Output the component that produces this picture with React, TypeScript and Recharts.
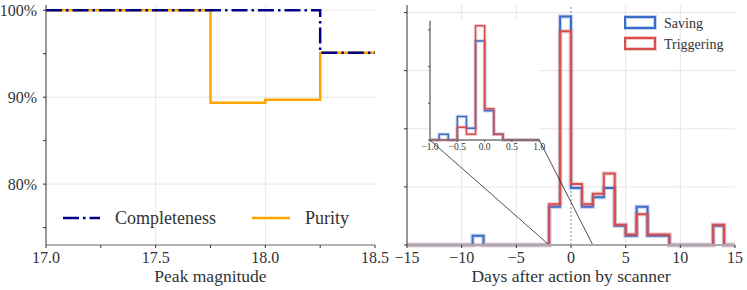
import React from "react";
import {
  LineChart,
  Line,
  XAxis,
  YAxis,
  CartesianGrid,
  ReferenceLine,
} from "recharts";

const FONT = '"Liberation Serif", "DejaVu Serif", serif';
const TEXT = "#333";

// left panel: completeness / purity vs peak magnitude (bin edges, last value repeated for the step)
const magEdges = [17.0, 17.25, 17.5, 17.75, 18.0, 18.25, 18.5];
const completeness = [100, 100, 100, 100, 100, 95.1, 95.1];
const purity = [100, 100, 100, 89.35, 89.7, 95.1, 95.1];
const magTicks = [17.0, 17.25, 17.5, 17.75, 18.0, 18.25, 18.5];
const magLabelled = [17.0, 17.5, 18.0, 18.5];
const pctTicks = [75, 80, 85, 90, 95, 100];
const pctLabelled = [80, 90, 100];

// right panel: histogram, 1-day bins from -15 to 15
const dayEdges = [
  -15, -14, -13, -12, -11, -10, -9, -8, -7, -6, -5, -4, -3, -2, -1, 0, 1, 2, 3,
  4, 5, 6, 7, 8, 9, 10, 11, 12, 13, 14, 15,
];
const saving = [
  0, 0, 0, 0, 0, 0, 0.016, 0, 0, 0, 0, 0, 0, 0.066, 0.393, 0.098, 0.066, 0.082,
  0.098, 0.033, 0.016, 0.066, 0.016, 0.016, 0, 0, 0, 0, 0.033, 0,
];
const triggering = [
  0, 0, 0, 0, 0, 0, 0, 0, 0, 0, 0, 0, 0, 0.07, 0.368, 0.105, 0.07, 0.088, 0.123,
  0.035, 0.018, 0.053, 0.018, 0.018, 0, 0, 0, 0, 0.035, 0,
];
const dayTicks = [-15, -10, -5, 0, 5, 10, 15];
const densTicks = [0, 0.1, 0.2, 0.3, 0.4];

// inset: zoom on [-1, 1], bins of 1/6 day
const insetEdges = [
  -1, -0.8333, -0.6667, -0.5, -0.3333, -0.1667, 0, 0.1667, 0.3333, 0.5, 0.6667,
  0.8333, 1,
];
const insetSaving = [0, 0.155, 0, 0.64, 0.32, 2.7, 0.8, 0.155, 0, 0, 0, 0];
const insetTriggering = [0, 0, 0, 0.35, 0.155, 3.11, 0.85, 0.155, 0, 0, 0, 0];
const insetTicks = [-1, -0.5, 0, 0.5, 1];

const BLUE = "#3a6cc8";
const RED = "#d64f4f";

const stepTable = (edges: number[], a: number[], b: number[]) =>
  edges.map((x, i) => ({
    x,
    a: a[Math.min(i, a.length - 1)],
    b: b[Math.min(i, b.length - 1)],
  }));

const leftData = magEdges.map((x, i) => ({
  x,
  completeness: completeness[i],
  purity: purity[i],
}));
const rightData = stepTable(dayEdges, saving, triggering);
const insetData = stepTable(insetEdges, insetSaving, insetTriggering);

const minus = (v: number) => (v < 0 ? `\u2212${Math.abs(v)}` : `${v}`);
const tickStyle = { fontFamily: FONT, fontSize: 16, fill: TEXT };

// axis title drawn by hand so the serif font sticks
const axisLabel = (value: string) => ({
  value,
  content: (props: any) => {
    const vb = props.viewBox || {};
    return (
      <text x={vb.x + vb.width / 2} y={vb.y + 37} textAnchor="middle" fontFamily={FONT} fontSize={17.5} fill={TEXT}>
        {value}
      </text>
    );
  },
});

const LeftLegend = () => (
  <svg width={310} height={26}>
    <line x1={8} x2={45} y1={13} y2={13} stroke="#00008b" strokeWidth={2.5} strokeDasharray="16 4 2.5 4" />
    <text x={60} y={13} dominantBaseline="central" fontFamily={FONT} fontSize={18} fill={TEXT}>
      Completeness
    </text>
    <line x1={197} x2={235} y1={13} y2={13} stroke="#ffa500" strokeWidth={2.5} />
    <text x={250} y={13} dominantBaseline="central" fontFamily={FONT} fontSize={18} fill={TEXT}>
      Purity
    </text>
  </svg>
);

const RightLegend = () => (
  <svg width={115} height={45}>
    {[
      { c: BLUE, y: 7, name: "Saving" },
      { c: RED, y: 28, name: "Triggering" },
    ].map((it) => (
      <g key={it.name}>
        <rect x={1} y={it.y} width={30} height={11} fill="none" stroke={it.c} strokeOpacity={0.3} strokeWidth={4} />
        <rect x={1} y={it.y} width={30} height={11} fill="none" stroke={it.c} strokeWidth={2} />
        <text x={40} y={it.y + 6} dominantBaseline="central" fontFamily={FONT} fontSize={14} fill={TEXT}>
          {it.name}
        </text>
      </g>
    ))}
  </svg>
);

const LeftPanel = () => (
  <LineChart width={395} height={290} data={leftData} margin={{ top: 5, right: 20, left: 6, bottom: 0 }}>
    <CartesianGrid stroke="#e6e6e6" verticalValues={[17.5, 18.0]} horizontalValues={[80, 90, 100]} />
    <XAxis
      dataKey="x"
      type="number"
      domain={[17.0, 18.5]}
      ticks={magTicks}
      height={45}
      tickSize={3}
      tickMargin={4}
      tick={tickStyle}
      tickFormatter={(v: number) => (magLabelled.includes(v) ? v.toFixed(1) : "")}
      axisLine={{ stroke: "#999", strokeWidth: 1.5 }}
      tickLine={{ stroke: "#333" }}
      label={axisLabel("Peak magnitude")}
    />
    <XAxis xAxisId="top" orientation="top" dataKey="x" type="number" domain={[17.0, 18.5]} height={0} tick={false} tickLine={false} axisLine={{ stroke: "#333" }} />
    <YAxis
      type="number"
      domain={[73.0, 100.6]}
      ticks={pctTicks}
      width={40}
      tickSize={3}
      tickMargin={6}
      tick={tickStyle}
      tickFormatter={(v: number) => (pctLabelled.includes(v) ? `${v}%` : "")}
      axisLine={{ stroke: "#333" }}
      tickLine={{ stroke: "#333" }}
    />
    <YAxis yAxisId="r" orientation="right" type="number" domain={[73.0, 100.6]} ticks={pctTicks} width={0} tickSize={3} tickFormatter={() => ""} axisLine={{ stroke: "#333" }} tickLine={{ stroke: "#333" }} />
    <Line type="stepAfter" dataKey="purity" stroke="#ffa500" strokeWidth={2.5} dot={false} isAnimationActive={false} />
    <Line type="stepAfter" dataKey="completeness" stroke="#00008b" strokeWidth={2.5} strokeDasharray="16 4 2.5 4" dot={false} isAnimationActive={false} />
  </LineChart>
);

const RightPanel = () => (
  <LineChart width={367} height={290} data={rightData} margin={{ top: 5, right: 12, left: 0, bottom: 0 }}>
    <CartesianGrid stroke="#e6e6e6" verticalValues={[-10, -5, 5, 10]} horizontalValues={[0.1, 0.2, 0.3, 0.4]} />
    <XAxis
      dataKey="x"
      type="number"
      domain={[-15, 15]}
      ticks={dayTicks}
      allowDataOverflow
      height={45}
      tickSize={3}
      tickMargin={4}
      tick={tickStyle}
      tickFormatter={minus}
      axisLine={{ stroke: "#aaa", strokeWidth: 2 }}
      tickLine={{ stroke: "#333" }}
      label={axisLabel("Days after action by scanner")}
    />
    <XAxis xAxisId="top" orientation="top" dataKey="x" type="number" domain={[-15, 15]} height={0} tick={false} tickLine={false} axisLine={{ stroke: "#333" }} />
    <YAxis type="number" domain={[0, 0.413]} ticks={densTicks} width={27} tickSize={3} tickFormatter={() => ""} axisLine={{ stroke: "#333" }} tickLine={{ stroke: "#333" }} />
    <YAxis yAxisId="r" orientation="right" type="number" domain={[0, 0.413]} width={0} tick={false} tickLine={false} axisLine={{ stroke: "#333" }} />
    <ReferenceLine x={0} stroke="#888" strokeDasharray="2 2" strokeWidth={1} />
    <Line type="stepAfter" dataKey="a" stroke={BLUE} strokeOpacity={0.25} strokeWidth={4.5} dot={false} isAnimationActive={false} />
    <Line type="stepAfter" dataKey="a" stroke={BLUE} strokeWidth={2} dot={false} isAnimationActive={false} />
    <Line type="stepAfter" dataKey="b" stroke={RED} strokeOpacity={0.25} strokeWidth={4.5} dot={false} isAnimationActive={false} />
    <Line type="stepAfter" dataKey="b" stroke={RED} strokeWidth={2} dot={false} isAnimationActive={false} />
    <ReferenceLine segment={[{ x: -12.9, y: 0.1805 }, { x: -2, y: 0 }]} stroke="#222" strokeWidth={0.8} />
    <ReferenceLine segment={[{ x: -2.9, y: 0.1805 }, { x: 2, y: 0 }]} stroke="#222" strokeWidth={0.8} />
  </LineChart>
);

const InsetPanel = () => (
  <LineChart width={130} height={145} data={insetData} margin={{ top: 5.7, right: 10.7, left: 0, bottom: 0 }}>
    <CartesianGrid horizontal={false} vertical={false} fill="#fff" />
    <XAxis
      dataKey="x"
      type="number"
      domain={[-1, 1]}
      ticks={insetTicks}
      height={20}
      tickSize={2}
      tickMargin={1}
      tick={{ fontFamily: FONT, fontSize: 9.5, fill: TEXT }}
      tickFormatter={(v: number) => (v < 0 ? `\u2212${Math.abs(v).toFixed(1)}` : v.toFixed(1))}
      axisLine={{ stroke: "#777", strokeWidth: 1.5 }}
      tickLine={{ stroke: "#555" }}
    />
    <XAxis xAxisId="top" orientation="top" dataKey="x" type="number" domain={[-1, 1]} height={0} tick={false} tickLine={false} axisLine={{ stroke: "#777", strokeWidth: 1.5 }} />
    <YAxis type="number" domain={[0, 3.25]} ticks={[0, 1, 2, 3]} width={10} tickSize={2} tickFormatter={() => ""} axisLine={{ stroke: "#777", strokeWidth: 1.5 }} tickLine={{ stroke: "#555" }} />
    <YAxis yAxisId="r" orientation="right" type="number" domain={[0, 3.25]} width={0} tick={false} tickLine={false} axisLine={{ stroke: "#777", strokeWidth: 1.5 }} />
    <Line type="stepAfter" dataKey="a" stroke={BLUE} strokeOpacity={0.25} strokeWidth={3.5} dot={false} isAnimationActive={false} />
    <Line type="stepAfter" dataKey="a" stroke={BLUE} strokeWidth={1.5} dot={false} isAnimationActive={false} />
    <Line type="stepAfter" dataKey="b" stroke={RED} strokeOpacity={0.25} strokeWidth={3.5} dot={false} isAnimationActive={false} />
    <Line type="stepAfter" dataKey="b" stroke={RED} strokeWidth={1.5} dot={false} isAnimationActive={false} />
  </LineChart>
);

export default function App() {
  return (
    <div style={{ position: "absolute", left: 0, top: 0, width: 747, height: 290, background: "#fff", fontFamily: FONT }}>
      <div style={{ position: "absolute", left: 0, top: 0 }}>
        <LeftPanel />
      </div>
      <div style={{ position: "absolute", left: 380, top: 0 }}>
        <RightPanel />
      </div>
      <div style={{ position: "absolute", left: 420, top: 15 }}>
        <InsetPanel />
      </div>
      <div style={{ position: "absolute", left: 55, top: 205 }}>
        <LeftLegend />
      </div>
      <div style={{ position: "absolute", left: 624, top: 10 }}>
        <RightLegend />
      </div>
    </div>
  );
}
